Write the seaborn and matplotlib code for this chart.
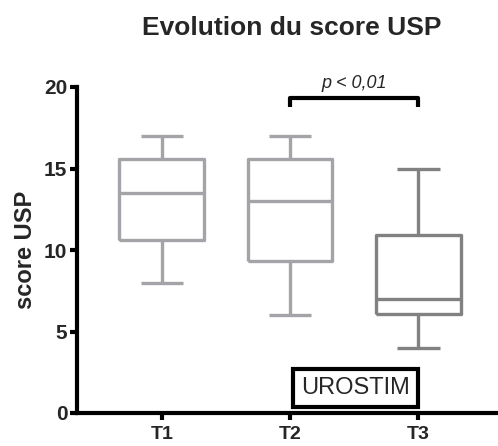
import numpy as np
import pandas as pd
import seaborn as sns
import matplotlib.pyplot as plt

# values: min, Q1, median, Q3, max per time point
groups = ["T1", "T2", "T3"]
t1_scores = [8, 10.6, 13.5, 15.6, 17]
t2_scores = [6, 9.3, 13, 15.6, 17]
t3_scores = [4, 6.1, 7, 10.9, 15]
box_colors = ["#a4a4a8", "#a4a4a8", "#818181"]

df = pd.DataFrame({
    "temps": np.repeat(groups, 5),
    "score": t1_scores + t2_scores + t3_scores,
})

sns.set_style("white")
plt.rcParams['font.family'] = ['Liberation Sans', 'DejaVu Sans']

fig = plt.figure(figsize=(4.98, 4.46), dpi=100)
ax = fig.add_axes([77 / 498, 33 / 446, 421 / 498, 326 / 446])

sns.boxplot(data=df, x="temps", y="score", order=groups, hue="temps",
            hue_order=groups, palette=box_colors, legend=False, whis=(0, 100),
            width=0.66, linewidth=2.4, fill=False, ax=ax)

for ln in ax.lines:
    ln.set_solid_capstyle("butt")

ax.set_xlim(-0.66, 2.62)
ax.set_ylim(0, 20)
ax.set_yticks([0, 5, 10, 15, 20])
ax.set_xlabel("")
ax.set_ylabel("score USP", fontsize=17, fontweight="bold")
ax.yaxis.set_label_coords(-0.095, 0.5)
for s in ["top", "right"]:
    ax.spines[s].set_visible(False)
for s in ["left", "bottom"]:
    ax.spines[s].set_linewidth(3)
    ax.spines[s].set_color("black")
ax.tick_params(axis="both", length=5, width=3, color="black",
               left=True, bottom=True, pad=2)
ax.tick_params(axis="y", labelsize=15)
ax.tick_params(axis="x", labelsize=14, pad=4.5)
for lab in ax.get_xticklabels() + ax.get_yticklabels():
    lab.set_fontweight("bold")

fig.text(292 / 498, 1 - 35 / 446, "Evolution du score USP", ha="center", va="baseline",
         fontsize=19, fontweight="bold")

# significance bracket T2 vs T3
yb, yt = 19.3, 18.75
ax.plot([1, 1, 2, 2], [yt, yb, yb, yt], color="black", lw=3, clip_on=False,
        solid_capstyle="butt")
ax.text(1.5, 19.95, "p < 0,01", ha="center", va="baseline", fontsize=13,
        style="italic", clip_on=False)

# treatment label
ax.text(1.51, 1.53, "UROSTIM", ha="center", va="center", fontsize=17,
        bbox=dict(boxstyle="square,pad=0.33", fc="white", ec="black", lw=3))

fig.savefig("out.png", dpi=100)
